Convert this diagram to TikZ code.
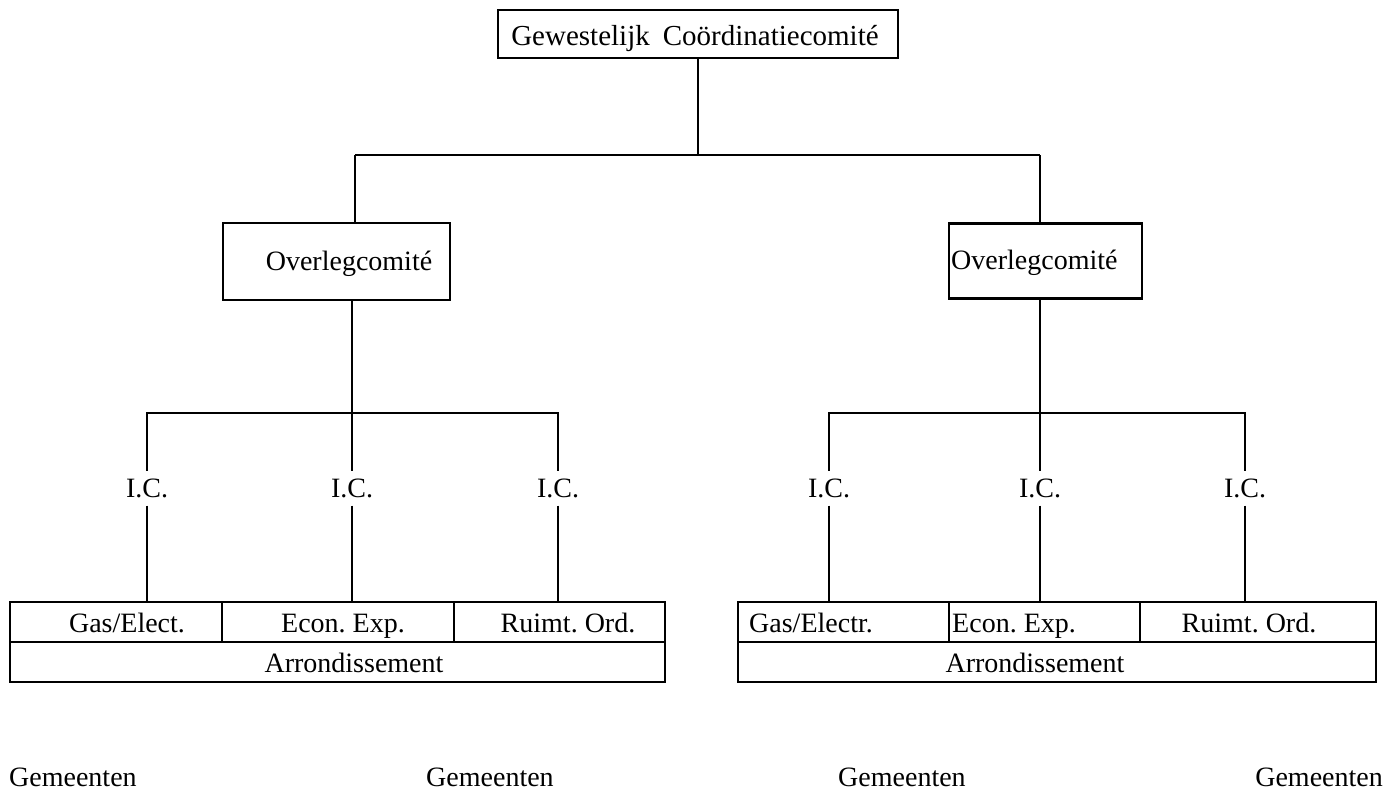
\documentclass[tikz,border=0pt]{standalone}
\usepackage{fontspec}
\setmainfont{Liberation Serif}
\begin{document}
\begin{tikzpicture}[x=1pt,y=-1pt,
  ln/.style={line width=2.4pt},
  boxx/.style={draw, line width=2.2pt, inner sep=0pt, outer sep=0pt},
  txt/.style={font=\fontsize{28}{30}\selectfont, inner sep=0pt},
  bigtxt/.style={font=\fontsize{29}{31}\selectfont, inner sep=0pt},
  ic/.style={font=\fontsize{28}{30}\selectfont, text height=19pt, text depth=0pt, inner xsep=0pt, inner ysep=8pt, outer sep=0pt}]
\useasboundingbox[fill=white] (0,0) rectangle (1384,800);

% top
\node[boxx, minimum width=400pt, minimum height=48pt] (top) at (698,34) {};
\node[bigtxt, anchor=base] (topT) at (695,46) {Gewestelijk\hspace{0.45em}Coördinatiecomité};

% overleg boxes
\node[boxx, minimum width=227pt, minimum height=77pt] (ovL) at (336.5,261.5) {};
\node[txt, anchor=base] (ovLT) at (349,270) {Overlegcomité};
\node[boxx, minimum width=193pt, minimum height=75pt] (ovR) at (1045.5,261) {};
\node[txt, anchor=base west] (ovRT) at (951,269) {Overlegcomité};

% junctions
\coordinate (jT) at (698,155);
\coordinate (jL) at (355,155);
\coordinate (jR) at (1040,155);
\draw[ln] (top.south) -- (jT);
\draw[ln] (jL) -- (jR);
\draw[ln] (jL) -- (jL |- ovL.north);
\draw[ln] (jR) -- (jR |- ovR.north);

\coordinate (hL) at (352,413);
\coordinate (hR) at (1040,413);
\draw[ln] (hL |- ovL.south) -- (hL);
\draw[ln] (hR |- ovR.south) -- (hR);

% I.C. labels
\node[ic] (icL1) at (147,488) {I.C.};
\node[ic] (icL2) at (352,488) {I.C.};
\node[ic] (icL3) at (558,488) {I.C.};
\node[ic] (icR1) at (829,488) {I.C.};
\node[ic] (icR2) at (1040,488) {I.C.};
\node[ic] (icR3) at (1245,488) {I.C.};

\draw[ln] (icL1.north) -- (icL1.north |- hL) -- (icL3.north |- hL) -- (icL3.north);
\draw[ln] (hL) -- (icL2.north);
\draw[ln] (icR1.north) -- (icR1.north |- hR) -- (icR3.north |- hR) -- (icR3.north);
\draw[ln] (hR) -- (icR2.north);

% bottom left cells
\node[boxx, minimum width=212pt, minimum height=40pt] (c1) at (116,622) {};
\node[boxx, minimum width=232pt, minimum height=40pt] (c2) at (338,622) {};
\node[boxx, minimum width=211pt, minimum height=40pt] (c3) at (559.5,622) {};
\node[boxx, minimum width=655pt, minimum height=40pt] (aL) at (337.5,662) {};
\node[txt, anchor=base] (c1T) at (127,632) {Gas/Elect.};
\node[txt, anchor=base] (c2T) at (343,632) {Econ.\ Exp.};
\node[txt, anchor=base] (c3T) at (568,632) {Ruimt.\ Ord.};
\node[txt, anchor=base] (aLT) at (354,672) {Arrondissement};

% bottom right cells
\node[boxx, minimum width=211pt, minimum height=40pt] (d1) at (843.5,622) {};
\node[boxx, minimum width=191pt, minimum height=40pt] (d2) at (1044.5,622) {};
\node[boxx, minimum width=236pt, minimum height=40pt] (d3) at (1258,622) {};
\node[boxx, minimum width=638pt, minimum height=40pt] (aR) at (1057,662) {};
\node[txt, anchor=base west] (d1T) at (749,632) {Gas/Electr.};
\node[txt, anchor=base west] (d2T) at (952,632) {Econ.\ Exp.};
\node[txt, anchor=base] (d3T) at (1249,632) {Ruimt.\ Ord.};
\node[txt, anchor=base] (aRT) at (1035,672) {Arrondissement};

\draw[ln] (icL1.south) -- (icL1.south |- c1.north);
\draw[ln] (icL2.south) -- (icL2.south |- c2.north);
\draw[ln] (icL3.south) -- (icL3.south |- c3.north);
\draw[ln] (icR1.south) -- (icR1.south |- d1.north);
\draw[ln] (icR2.south) -- (icR2.south |- d2.north);
\draw[ln] (icR3.south) -- (icR3.south |- d3.north);

% Gemeenten
\node[txt, anchor=base west] (g1) at (9,786) {Gemeenten};
\node[txt, anchor=base west] (g2) at (426,786) {Gemeenten};
\node[txt, anchor=base west] (g3) at (838,786) {Gemeenten};
\node[txt, anchor=base east] (g4) at (1383,786) {Gemeenten};
\end{tikzpicture}
\end{document}
